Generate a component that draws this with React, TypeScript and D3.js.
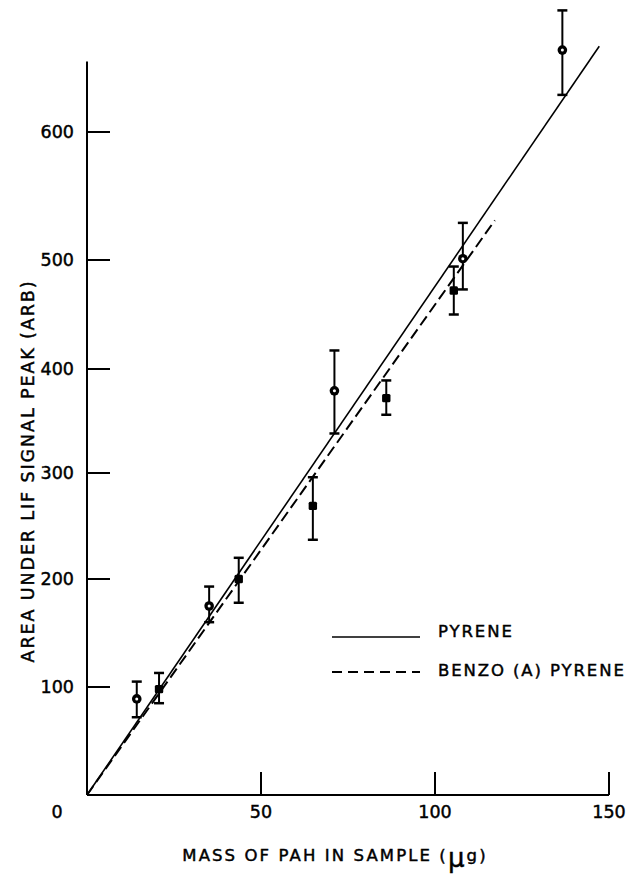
import React from "react";
import * as d3 from "d3";

// pyrene (circles)
const pyMass = [14.3, 35.1, 71.1, 108.0, 136.6];
const pyArea = [89, 175, 379, 501, 664];
const pyLow = [72, 160, 338, 473, 629];
const pyHigh = [105, 193, 417, 529, 695];

// benzo(a)pyrene (squares)
const bpMass = [20.7, 43.6, 64.9, 86.0, 105.4];
const bpArea = [98, 200, 269, 372, 472];
const bpLow = [85, 178, 237, 356, 450];
const bpHigh = [113, 220, 296, 389, 494];

// fitted lines (start, end)
const pyFit = [
  { x: 0, y: 0 },
  { x: 147.2, y: 667 },
];
const bpFit = [
  { x: 0, y: 0 },
  { x: 117.2, y: 531 },
];

const xTicks = [50, 100, 150];
const yTicks = [100, 200, 300, 400, 500, 600];
const legendLabels = ["PYRENE", "BENZO (A) PYRENE"];

const FONT = "'DejaVu Sans', sans-serif";

export default function App() {
  const width = 631;
  const height = 876;

  const x = d3.scaleLinear().domain([0, 150]).range([87, 609]);
  // the printed axis is not quite evenly spaced, follow its ticks
  const y = d3
    .scaleLinear()
    .domain([0, 100, 200, 300, 400, 500, 600])
    .range([795, 687, 579, 473, 369, 260, 132]);

  const line = d3
    .line<{ x: number; y: number }>()
    .x((d) => x(d.x))
    .y((d) => y(d.y));

  const cap = 5;
  const ink = { stroke: "#000", strokeWidth: 0.45 };

  const errBars = (mass: number[], low: number[], high: number[], key: string) =>
    mass.map((m, i) => (
      <g key={key + i} stroke="#000" strokeWidth={2}>
        <line x1={x(m)} x2={x(m)} y1={y(low[i])} y2={y(high[i])} />
        <line x1={x(m) - cap} x2={x(m) + cap} y1={y(low[i])} y2={y(low[i])} strokeWidth={2.5} />
        <line x1={x(m) - cap} x2={x(m) + cap} y1={y(high[i])} y2={y(high[i])} strokeWidth={2.5} />
      </g>
    ));

  return (
    <svg
      width={width}
      height={height}
      style={{ position: "absolute", left: 0, top: 0, background: "#fff" }}
      fontFamily={FONT}
    >
      {/* axes */}
      <line x1={x(0)} x2={x(0)} y1={y(0)} y2={y(655)} stroke="#000" strokeWidth={2} />
      <line x1={x(0)} x2={x(150)} y1={y(0)} y2={y(0)} stroke="#000" strokeWidth={2} />

      {yTicks.map((t) => (
        <g key={"yt" + t}>
          <line x1={x(0)} x2={x(0) + 23} y1={y(t)} y2={y(t)} stroke="#000" strokeWidth={2} />
          <text
            x={x(0) - 13}
            y={y(t)}
            textAnchor="end"
            dominantBaseline="central"
            fontSize={17.5}
            {...ink}
          >
            {t}
          </text>
        </g>
      ))}

      {xTicks.map((t) => (
        <g key={"xt" + t}>
          <line x1={x(t)} x2={x(t)} y1={y(0)} y2={y(0) - 23} stroke="#000" strokeWidth={2} />
          <text
            x={x(t)}
            y={y(0) + 17}
            textAnchor="middle"
            dominantBaseline="central"
            fontSize={17.5}
            {...ink}
          >
            {t}
          </text>
        </g>
      ))}
      <text
        x={x(0) - 30}
        y={y(0) + 17}
        textAnchor="middle"
        dominantBaseline="central"
        fontSize={17.5}
        {...ink}
      >
        0
      </text>

      {/* axis titles */}
      <text
        x={335}
        y={855}
        textAnchor="middle"
        dominantBaseline="central"
        fontSize={16.5}
        letterSpacing={2.1}
        {...ink}
      >
        MASS OF PAH IN SAMPLE (
        <tspan fontSize={26} dy={3}>µ</tspan>
        <tspan dy={-3}>g)</tspan>
      </text>
      <text
        transform={`translate(28,${471}) rotate(-90)`}
        textAnchor="middle"
        dominantBaseline="central"
        fontSize={17.5}
        letterSpacing={1.9}
        {...ink}
      >
        AREA UNDER LIF SIGNAL PEAK (ARB)
      </text>

      {/* fits */}
      <path d={line(pyFit) || ""} fill="none" stroke="#000" strokeWidth={1.6} />
      <path d={line(bpFit) || ""} fill="none" stroke="#000" strokeWidth={2} strokeDasharray="11 5" />

      {/* error bars */}
      {errBars(pyMass, pyLow, pyHigh, "pe")}
      {errBars(bpMass, bpLow, bpHigh, "be")}

      {/* markers */}
      {pyMass.map((m, i) => (
        <g key={"pm" + i}>
          <circle cx={x(m)} cy={y(pyArea[i])} r={4.8} fill="#000" />
          <circle cx={x(m)} cy={y(pyArea[i])} r={1.5} fill="#fff" />
        </g>
      ))}
      {bpMass.map((m, i) => (
        <rect
          key={"bm" + i}
          x={x(m) - 4.2}
          y={y(bpArea[i]) - 4.2}
          width={8.4}
          height={8.4}
          rx={1.5}
          fill="#000"
        />
      ))}

      {/* legend */}
      <g>
        <line x1={332} x2={420} y1={637} y2={637} stroke="#000" strokeWidth={1.6} />
        <text
          x={438}
          y={631}
          dominantBaseline="central"
          fontSize={16.5}
          letterSpacing={1.9}
          {...ink}
        >
          {legendLabels[0]}
        </text>
        <line
          x1={332}
          x2={420}
          y1={672}
          y2={672}
          stroke="#000"
          strokeWidth={2}
          strokeDasharray="10 6"
        />
        <text
          x={438}
          y={670}
          dominantBaseline="central"
          fontSize={16.5}
          letterSpacing={1.9}
          {...ink}
        >
          {legendLabels[1]}
        </text>
      </g>
    </svg>
  );
}
